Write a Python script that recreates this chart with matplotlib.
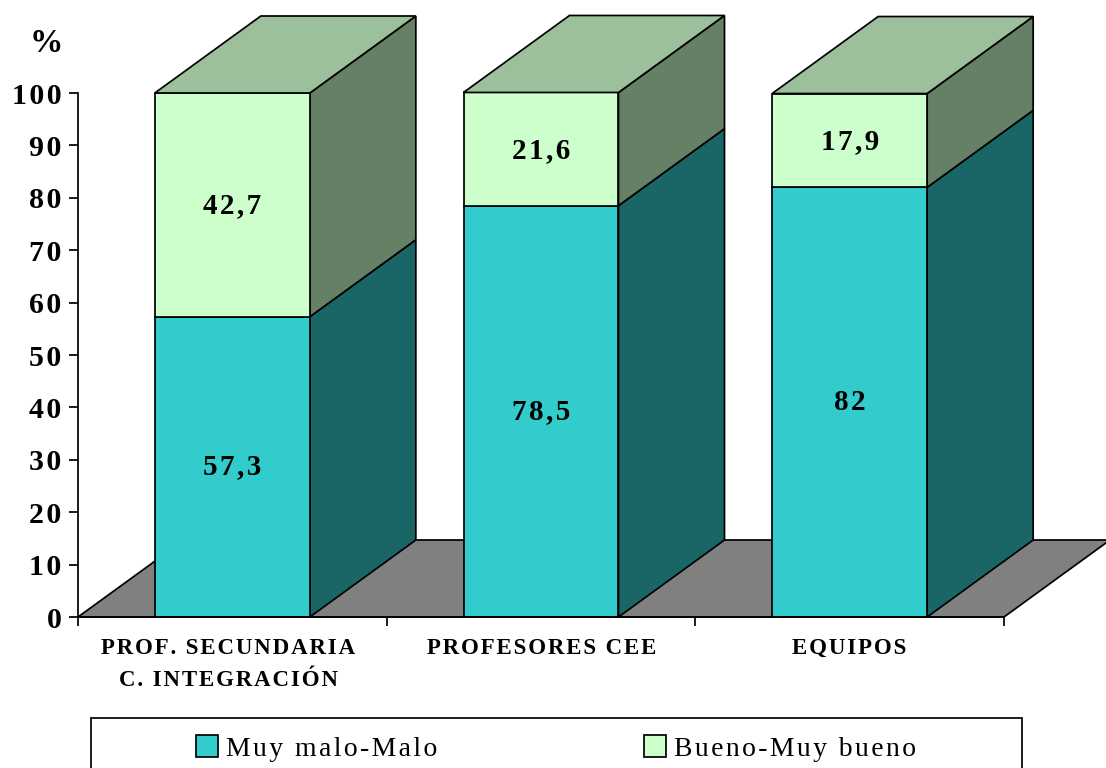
import matplotlib
matplotlib.use("Agg")
import matplotlib.pyplot as plt
from matplotlib.patches import Polygon, Rectangle

categories = ["PROF. SECUNDARIA\nC. INTEGRACIÓN", "PROFESORES CEE", "EQUIPOS"]
malo_values = [57.3, 78.5, 82]
bueno_values = [42.7, 21.6, 17.9]
malo_labels = ["57,3", "78,5", "82"]
bueno_labels = ["42,7", "21,6", "17,9"]
y_ticks = list(range(0, 101, 10))
legend_names = ["Muy malo-Malo", "Bueno-Muy bueno"]

W, H = 1106, 768
BAR_W = 155 / 308.67
DX = 106 / 308.67
DY = 77 / 5.24

MALO = "#33CCCC"
MALO_SIDE = "#1A6666"
BUENO = "#CCFFCC"
BUENO_SIDE = "#668066"
BUENO_TOP = "#9CC09C"
FLOOR = "#808080"
LW = 1.25

plt.rcParams["font.family"] = ["Liberation Serif", "DejaVu Serif"]


def spaced(text):
    # the original has wide letter spacing
    return "\n".join("\u200a".join(line) for line in text.split("\n"))


def poly(ax, points, color, z):
    ax.add_patch(Polygon(points, closed=True, facecolor=color, edgecolor="black",
                         linewidth=LW, clip_on=False, zorder=z, joinstyle="miter"))


def draw_segment(ax, x, y0, y1, front, side, z):
    poly(ax, [(x + BAR_W, y0), (x + BAR_W + DX, y0 + DY),
              (x + BAR_W + DX, y1 + DY), (x + BAR_W, y1)], side, z)
    poly(ax, [(x, y0), (x + BAR_W, y0), (x + BAR_W, y1), (x, y1)], front, z + 0.5)


fig = plt.figure(figsize=(W / 100, H / 100), dpi=100)
ax = fig.add_axes([78 / W, (H - 617) / H, 926 / W, 524 / H])
ax.set_xlim(0, len(categories))
ax.set_ylim(0, 100)

poly(ax, [(0, 0), (DX, DY), (len(categories) + DX, DY), (len(categories), 0)], FLOOR, 1)

for i in range(len(categories)):
    x = i + 0.5 - BAR_W / 2
    low = malo_values[i]
    high = low + bueno_values[i]
    draw_segment(ax, x, 0, low, MALO, MALO_SIDE, 2)
    draw_segment(ax, x, low, high, BUENO, BUENO_SIDE, 3)
    poly(ax, [(x, high), (x + BAR_W, high), (x + BAR_W + DX, high + DY), (x + DX, high + DY)],
         BUENO_TOP, 4)
    ax.text(i + 0.5, low / 2, spaced(malo_labels[i]), ha="center", va="center",
            fontsize=21, fontweight="bold", zorder=6)
    ax.text(i + 0.5, low + bueno_values[i] / 2 - 0.2, spaced(bueno_labels[i]), ha="center",
            va="center", fontsize=21, fontweight="bold", zorder=6)

for side in ["top", "right"]:
    ax.spines[side].set_visible(False)
for side in ["left", "bottom"]:
    ax.spines[side].set_linewidth(LW)
    ax.spines[side].set_zorder(5)

ax.set_yticks(y_ticks)
ax.set_yticklabels([spaced(str(t)) for t in y_ticks], fontweight="bold", fontsize=21.5,
                   va="center_baseline")
ax.tick_params(axis="y", length=6.5, width=LW, pad=5.5)

ax.set_xticks(range(len(categories) + 1))
ax.set_xticklabels([])
ax.tick_params(axis="x", which="major", length=6.5, width=LW)
# labels sit slightly off the category centres in the original
ax.set_xticks([0.486, 1.503, 2.498], minor=True)
ax.set_xticklabels([spaced(c) for c in categories], minor=True, fontsize=16.5, fontweight="bold",
                   linespacing=1.72)
ax.tick_params(axis="x", which="minor", length=0, pad=15)

fig.text(46 / W, 1 - 43 / H, "%", ha="center", va="center", fontsize=24, fontweight="bold")

# legend box runs off the bottom of the picture
fig.add_artist(Rectangle((91 / W, -10 / H), 931 / W, 60 / H, transform=fig.transFigure,
                         facecolor="white", edgecolor="black", linewidth=LW))
legend_x = [196, 644]
for name, color, px in zip(legend_names, [MALO, BUENO], legend_x):
    fig.add_artist(Rectangle((px / W, (H - 757) / H), 22 / W, 22 / H, transform=fig.transFigure,
                             facecolor=color, edgecolor="black", linewidth=LW))
    fig.text((px + 30) / W, 1 - 749 / H, spaced(name), ha="left", va="center", fontsize=20)

fig.savefig("out.png", dpi=100)
